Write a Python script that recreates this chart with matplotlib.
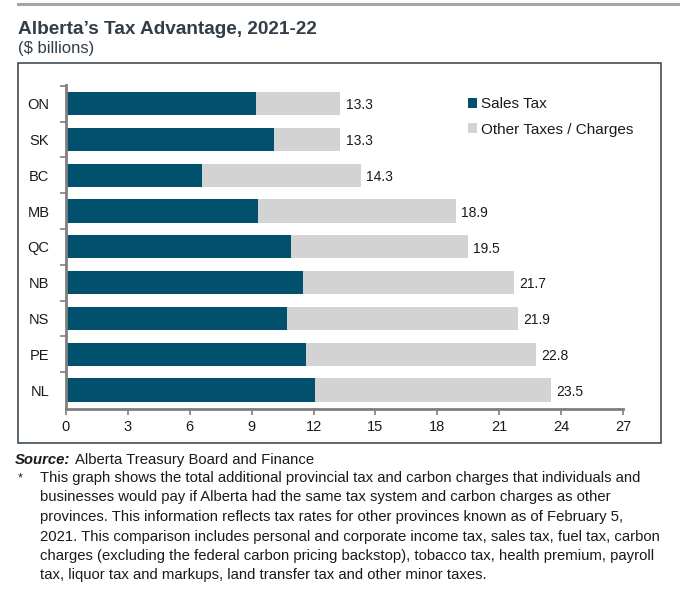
import matplotlib.pyplot as plt
from matplotlib.patches import Rectangle
from matplotlib.lines import Line2D

plt.rcParams['font.family'] = ['Liberation Sans', 'DejaVu Sans']

provinces = ['ON', 'SK', 'BC', 'MB', 'QC', 'NB', 'NS', 'PE', 'NL']
totals = [13.3, 13.3, 14.3, 18.9, 19.5, 21.7, 21.9, 22.8, 23.5]
sales_tax = [9.2, 10.1, 6.6, 9.3, 10.9, 11.5, 10.7, 11.65, 12.05]
other = [t - s for t, s in zip(totals, sales_tax)]
xticks = [0, 3, 6, 9, 12, 15, 18, 21, 24, 27]

dark = '#00506e'
light = '#d3d3d3'
txt = '#1a1a1a'

W, H = 680, 593
fig = plt.figure(figsize=(W / 100, H / 100), dpi=100)


def fx(px):
    return px / W


def fy(py):
    return 1 - py / H


# top rule and frame
fig.add_artist(Line2D([fx(18), fx(680)], [fy(4), fy(4)], color='#a6a6a6', lw=2.2))
fig.add_artist(Rectangle((fx(18), fy(443)), fx(661) - fx(18), fy(63) - fy(443),
                         fill=False, ec='#333d47', lw=1.1))

fig.text(fx(18), fy(30), 'Alberta\u2019s Tax Advantage, 2021-22', fontsize=13.7,
         fontweight='bold', color='#333d47', va='center')
fig.text(fx(18), fy(48), '($ billions)', fontsize=12, color='#333d47', va='center')

ax = fig.add_axes([fx(66), fy(409), fx(623) - fx(66), fy(85) - fy(409)])
y = list(range(len(provinces)))
ax.barh(y, sales_tax, height=0.65, color=dark, label='Sales Tax')
ax.barh(y, other, left=sales_tax, height=0.65, color=light,
        label='Other Taxes / Charges')
for yi, t in zip(y, totals):
    ax.text(t + 0.25, yi + 0.05, f'{t:.1f}', va='center', ha='left',
            fontsize=10, color=txt)

ax.set_xlim(0, 27)
ax.set_ylim(len(provinces) - 1 + 0.53, -0.52)
ax.set_xticks(xticks)
ax.set_xticklabels([str(v) for v in xticks], fontsize=10.5, color=txt)
ax.set_yticks(y)
ax.set_yticklabels(provinces, fontsize=10.5, color=txt)
ax.tick_params(axis='y', length=0, pad=12)
ax.set_yticks([i - 0.5 for i in range(len(provinces))], minor=True)
ax.tick_params(axis='y', which='minor', length=4, color='#7f7f7f', width=1.2)
ax.tick_params(axis='x', length=4, color='#7f7f7f', width=1.2, pad=4)
for s in ['top', 'right']:
    ax.spines[s].set_visible(False)
ax.spines['left'].set_color('#7f7f7f')
ax.spines['left'].set_linewidth(2)
ax.spines['bottom'].set_color('#7f7f7f')
ax.spines['bottom'].set_linewidth(2)

leg = ax.legend(loc='upper left', bbox_to_anchor=((454 - 66) / (623 - 66), 1.005),
                frameon=False, fontsize=11, handlelength=0.6, handleheight=0.6,
                handletextpad=0.25, labelspacing=0.75, labelcolor=txt)

src = fig.text(fx(15), fy(460), 'Source:', fontsize=10.7, fontweight='bold',
               style='italic', color=txt, va='center')
ax.annotate('Alberta Treasury Board and Finance', xy=(1, 0.5), xycoords=src,
            xytext=(3, 0), textcoords='offset points', fontsize=10.7,
            color=txt, va='center', ha='left', annotation_clip=False)
fig.text(fx(18), fy(478), '*', fontsize=9, color=txt, va='center')
note = ('This graph shows the total additional provincial tax and carbon charges that individuals and\n'
        'businesses would pay if Alberta had the same tax system and carbon charges as other\n'
        'provinces. This information reflects tax rates for other provinces known as of February 5,\n'
        '2021. This comparison includes personal and corporate income tax, sales tax, fuel tax, carbon\n'
        'charges (excluding the federal carbon pricing backstop), tobacco tax, health premium, payroll\n'
        'tax, liquor tax and markups, land transfer tax and other minor taxes.')
fig.text(fx(40), fy(471), note, fontsize=10.7, color=txt, va='top', linespacing=1.5)

fig.savefig('out.png', dpi=100)
